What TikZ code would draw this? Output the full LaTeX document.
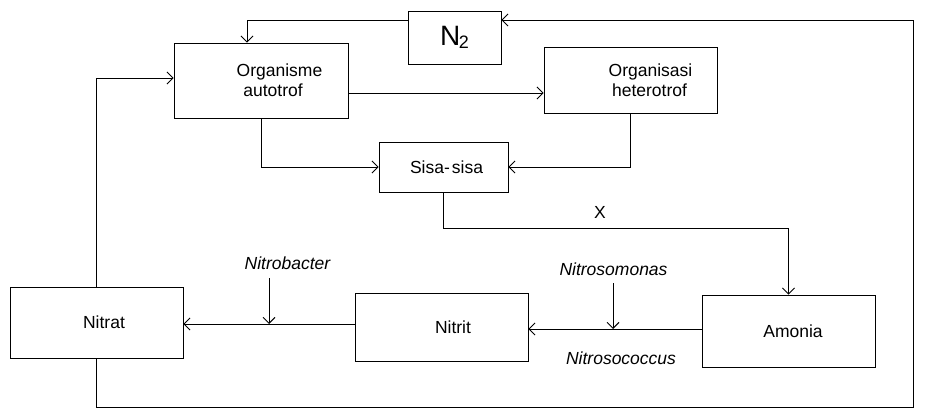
\documentclass[tikz,border=0pt]{standalone}
\usepackage{fontspec}
\setmainfont{Liberation Sans}
\usetikzlibrary{arrows.meta}
\newcommand\dfs{\fontsize{17.5}{20}\selectfont}
\begin{document}
\begin{tikzpicture}[x=1pt,y=-1pt,
  line width=0.9pt,
  box/.style={draw, rectangle, inner sep=0pt, align=center, font=\dfs},
  arr/.style={-{Straight Barb[length=6pt,width=12pt,line width=0.9pt]}},
  lbl/.style={font=\dfs\itshape, inner sep=0pt},
  txt/.style={font=\dfs, inner sep=0pt}]
\useasboundingbox (0,0) rectangle (928,414);
% boxes
\node[box, minimum width=93pt, minimum height=53pt] (n2) at (454.5,37.5)
  {{\fontsize{28}{30}\selectfont N}\hspace{-1.5pt}\raisebox{-3pt}{\fontsize{18}{20}\selectfont 2}};
\node[box, minimum width=174pt, minimum height=75pt] (org) at (261,80.5)
  {\hspace*{37pt}Organisme\\\hspace*{24pt}autotrof};
\node[box, minimum width=173pt, minimum height=66pt] (het) at (630.5,80)
  {\hspace*{40pt}Organisasi\\\hspace*{38pt}heterotrof};
\node[box, minimum width=129pt, minimum height=50pt] (sisa) at (443.5,167)
  {\hspace*{6pt}Sisa-\hspace{2pt}sisa};
\node[box, minimum width=173pt, minimum height=72pt] (amonia) at (788.5,331)
  {\hspace*{9pt}Amonia};
\node[box, minimum width=173pt, minimum height=68pt] (nitrit) at (441.5,327)
  {\hspace*{23pt}Nitrit};
\node[box, minimum width=173pt, minimum height=71pt] (nitrat) at (96.5,322.5)
  {\hspace*{15pt}Nitrat};
% labels
\node[txt] (x) at (600,212.5) {X};
\node[lbl] (nbac) at (287.5,263.5) {Nitrobacter};
\node[lbl] (nsom) at (613.5,269) {Nitrosomonas};
\node[lbl] (nsoc) at (621,358) {Nitrosococcus};
\coordinate (pb) at (269,278);
\coordinate (ps) at (613,283);
% connectors
\draw[arr] (n2.west |- 0,20) -- (247,20) -- (247,0 |- org.north);
\draw[arr] (nitrat.south) -- (nitrat.south |- 0,407) -- (913,407) -- (913,20) -- (n2.east |- 0,20);
\draw[arr] (nitrat.north) |- (org.west |- 0,78);
\draw[arr] (org.east |- 0,93) -- (het.west |- 0,93);
\draw[arr] (org.south) |- (sisa.west);
\draw[arr] (het.south) |- (sisa.east);
\draw[arr] (sisa.south) -- (sisa.south |- 0,228) -| (amonia.north);
\draw[arr] (amonia.west |- 0,329) -- (nitrit.east |- 0,329);
\draw[arr] (nitrit.west |- 0,324) -- (nitrat.east |- 0,324);
\draw[arr] (pb) -- (pb |- 0,324);
\draw[arr] (ps) -- (ps |- 0,329);
\end{tikzpicture}
\end{document}
